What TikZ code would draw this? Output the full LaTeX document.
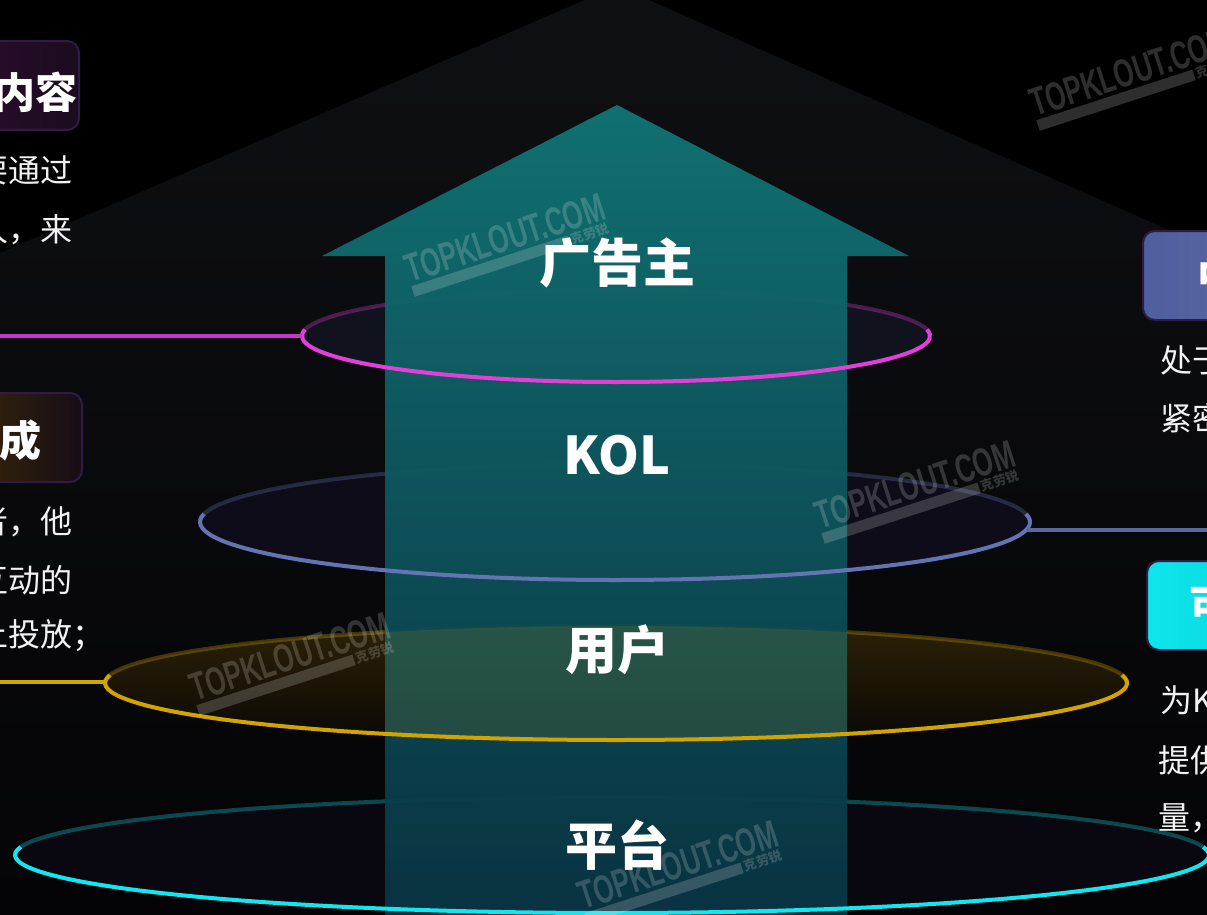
\documentclass[tikz,border=0pt]{standalone}
\usepackage{fontspec}
\setmainfont{Noto Sans CJK SC}
\newfontfamily\cjk{Noto Sans CJK SC}
\newfontfamily\wmfont{Liberation Sans}
\definecolor{pinkc}{HTML}{E23FD9}
\definecolor{pinkline}{HTML}{C836C6}
\definecolor{bluec}{HTML}{6474B2}
\definecolor{blueline}{HTML}{5A68A2}
\definecolor{goldc}{HTML}{D2A400}
\definecolor{cyanc}{HTML}{12E6EE}
\definecolor{houseTop}{HTML}{0F1013}
\definecolor{houseBot}{HTML}{040406}
\definecolor{arrowTop}{HTML}{117474}
\definecolor{arrowBot}{HTML}{0A3444}
\definecolor{pinkin}{HTML}{10121D}
\definecolor{bluein}{HTML}{0E0C19}
\definecolor{goldinTop}{HTML}{2C2107}
\definecolor{goldinBot}{HTML}{0B0906}
\definecolor{cyanin}{HTML}{090811}
\definecolor{boxbord}{HTML}{2E1B47}
\definecolor{bodyc}{HTML}{F2F2F2}
\definecolor{boxAl}{HTML}{2C0C2C}
\definecolor{boxAr}{HTML}{1A0C1F}
\definecolor{boxBl}{HTML}{3A2806}
\definecolor{boxBr}{HTML}{160D17}
\definecolor{boxCl}{HTML}{4E5F9E}
\definecolor{boxCr}{HTML}{5A68A2}
\definecolor{boxDl}{HTML}{0EE6EC}
\definecolor{boxDr}{HTML}{08D4DC}
\newcommand{\ringfront}[4]{\draw[ring,#4] ([shift={(-8:#2 and #3)}]#1) arc[start angle=-8,end angle=188,x radius=#2,y radius=#3];}
\newcommand{\ringback}[4]{\draw[ring,#4,opacity=0.3] ([shift={(180:#2 and #3)}]#1) arc[start angle=180,end angle=360,x radius=#2,y radius=#3];}
\newcommand{\arrowpath}{(617,105) -- (909,256) -- (847,256) -- (847,915) -- (385,915) -- (385,256) -- (322,256) -- cycle}
\tikzset{
  ring/.style={line width=4},
  link/.style={line width=4},
  lbl/.style={text=white,inner sep=0,font=\cjk\bfseries\fontsize{52}{60}\selectfont},
  btitle/.style={text=white,inner sep=0,font=\cjk\bfseries\fontsize{42}{48}\selectfont},
  body/.style={text=bodyc,inner sep=0,anchor=west,font=\cjk\fontsize{32}{36}\selectfont},
  box/.style={rectangle,rounded corners=12,draw=boxbord,line width=2,inner sep=0,minimum height=89},
  wmt/.style={text=white,opacity=0.18,inner sep=0,transform shape,font=\wmfont\bfseries\fontsize{36}{36}\selectfont},
  wms/.style={text=white,opacity=0.18,inner sep=0,transform shape,font=\cjk\bfseries\fontsize{13}{13}\selectfont},
  wm/.pic={
    \node[wmt] (-t) at (0,0) {\scalebox{0.72}[1.1]{TOPKLOUT.COM}};
    \fill[white,opacity=0.18] (-104,17) rectangle (60,28);
    \node[wms] (-s) at (82,22) {克劳锐};
  }
}
\begin{document}
\begin{tikzpicture}[x=1pt,y=-1pt]
\useasboundingbox (0,0) rectangle (1207,915);
\clip (0,0) rectangle (1207,915);
\fill[black] (0,0) rectangle (1207,915);
% house silhouette
\shade[top color=houseTop,bottom color=houseBot] (617,-14) -- (1207,247) -- (1207,915) -- (0,915) -- (0,253) -- cycle;
% ring centres
\coordinate (pinkC) at (616,336);
\coordinate (blueC) at (615,522);
\coordinate (goldC) at (616,683);
\coordinate (cyanC) at (612,855);
% ring interiors and back arcs
\fill[pinkin] (pinkC) ellipse[x radius=314,y radius=46];
\fill[bluein] (blueC) ellipse[x radius=415,y radius=58];
\shade[top color=goldinTop,bottom color=goldinBot] (goldC) ellipse[x radius=511,y radius=57];
\fill[cyanin] (cyanC) ellipse[x radius=597,y radius=58];
\ringback{pinkC}{314}{46}{pinkc}
\ringback{blueC}{415}{58}{bluec}
\ringback{goldC}{511}{57}{goldc}
\ringback{cyanC}{597}{58}{cyanc}
% arrow
\shade[top color=arrowTop,bottom color=arrowBot,opacity=0.96] \arrowpath;
% tint of the gold ring over the arrow
\begin{scope}
  \clip \arrowpath;
  \fill[goldc,opacity=0.13] (goldC) ellipse[x radius=511,y radius=57];
\end{scope}
% front arcs
\ringfront{pinkC}{314}{46}{pinkc}
\ringfront{blueC}{415}{58}{bluec}
\ringfront{goldC}{511}{57}{goldc}
\ringfront{cyanC}{597}{58}{cyanc}
% connectors
\coordinate (pinkL) at (302,336);
\coordinate (pinkEnd) at (0,336);
\coordinate (blueR) at (1027,530);
\coordinate (blueEnd) at (1207,530);
\coordinate (goldL) at (105,682);
\coordinate (goldEnd) at (0,682);
\draw[link,pinkline] (pinkEnd) -- (pinkL);
\draw[link,blueline] (blueR) -- (blueEnd);
\draw[link,goldc] (goldEnd) -- (goldL);
% level labels
\node[lbl] (lAd) at (617,263) {广告主};
\node[lbl] (lKol) at (617,455) {KOL};
\node[lbl] (lUser) at (617,650) {用户};
\node[lbl] (lPlat) at (617,845) {平台};
% left boxes
\node[box,left color=boxAl,right color=boxAr,minimum width=122] (boxA) at (18,85.5) {};
\node[btitle,anchor=east] (tA) at (78,92) {内容};
\node[body] (a1) at (-24,170) {要通过};
\node[body] (a2) at (-24,230) {人，来};
\node[box,left color=boxBl,right color=boxBr,minimum width=124] (boxB) at (20,437.5) {};
\node[btitle,anchor=east] (tB) at (42,440) {成};
\node[body] (b1) at (-24,522) {者，他};
\node[body] (b2) at (-24,580) {互动的};
\node[body] (b3) at (-24,636) {上投放；};
% right boxes
\node[box,left color=boxCl,right color=boxCr,minimum width=124] (boxC) at (1205,275.5) {};
\node[btitle,anchor=west] (tC) at (1197,276) {中};
\node[body] (c1) at (1160,360) {处于};
\node[body] (c2) at (1160,418) {紧密};
\node[box,left color=boxDl,right color=boxDr,minimum width=124] (boxD) at (1209,605.5) {};
\node[btitle,anchor=west] (tD) at (1189,606) {可};
\node[body] (d1) at (1160,700) {为KOL};
\node[body] (d2) at (1158,760) {提供};
\node[body] (d3) at (1158,818) {量，};
% watermarks
\pic[rotate=18] (wmA) at (1130,72) {wm};
\pic[rotate=18] (wmB) at (505,238) {wm};
\pic[rotate=18] (wmC) at (915,485) {wm};
\pic[rotate=18] (wmD) at (290,657) {wm};
\pic[rotate=18] (wmE) at (678,865) {wm};
\end{tikzpicture}
\end{document}
